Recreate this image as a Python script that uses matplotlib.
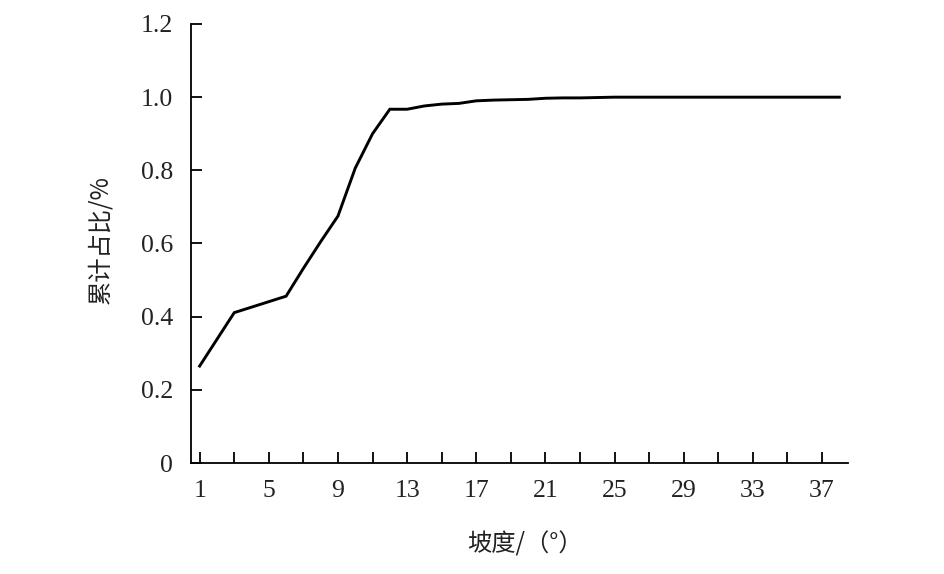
import matplotlib
matplotlib.use("Agg")
import matplotlib.pyplot as plt

slope = list(range(1, 39))
cum_ratio = [0.265, 0.338, 0.411, 0.426, 0.441, 0.456, 0.532, 0.605, 0.675, 0.806,
             0.900, 0.967, 0.967, 0.976, 0.981, 0.983, 0.990, 0.992, 0.993, 0.994,
             0.997, 0.998, 0.998, 0.999, 1.0, 1.0, 1.0, 1.0, 1.0, 1.0,
             1.0, 1.0, 1.0, 1.0, 1.0, 1.0, 1.0, 1.0]
x_labels = [1, 5, 9, 13, 17, 21, 25, 29, 33, 37]
y_ticks = [0, 0.2, 0.4, 0.6, 0.8, 1.0, 1.2]
xlabel = "坡度/（°）"
ylabel = "累计占比/%"

serif = "Liberation Serif"
cjk = ["Noto Sans CJK SC", "DejaVu Sans"]

fig = plt.figure(figsize=(9.45, 5.74), dpi=100)
ax = fig.add_axes([191/945, 1-463/574, (848-191)/945, (463-24)/574])

ax.plot(slope, cum_ratio, color="black", lw=2.1, solid_joinstyle="miter")

ax.set_xlim(0.5, 38.5)
ax.set_ylim(0, 1.2)
ax.set_xticks(list(range(1, 39, 2)))
ax.set_xticklabels([str(v) if v in x_labels else "" for v in range(1, 39, 2)])
ax.set_yticks(y_ticks)
ax.set_yticklabels(["0" if v == 0 else f"{v:.1f}" for v in y_ticks])

for s in ["top", "right"]:
    ax.spines[s].set_visible(False)
for s in ["left", "bottom"]:
    ax.spines[s].set_linewidth(1.3)
    ax.spines[s].set_color("black")

ax.tick_params(axis="both", direction="in", length=8, width=1.3, colors="black")
ax.tick_params(axis="x", pad=12)
ax.tick_params(axis="y", pad=13)
for lab in ax.get_xticklabels() + ax.get_yticklabels():
    lab.set_fontfamily(serif)
    lab.set_fontsize(18.5)
    lab.set_color("#222222")

fig.text(525/945, 1-545/574, xlabel, family=cjk, fontsize=17.5, ha="center", va="center", color="#222222")
fig.text(100/945, 1-240/574, ylabel, family=cjk, fontsize=17.5, rotation=90, ha="center", va="center", color="#222222")

fig.savefig("out.png", dpi=100, facecolor="white")
